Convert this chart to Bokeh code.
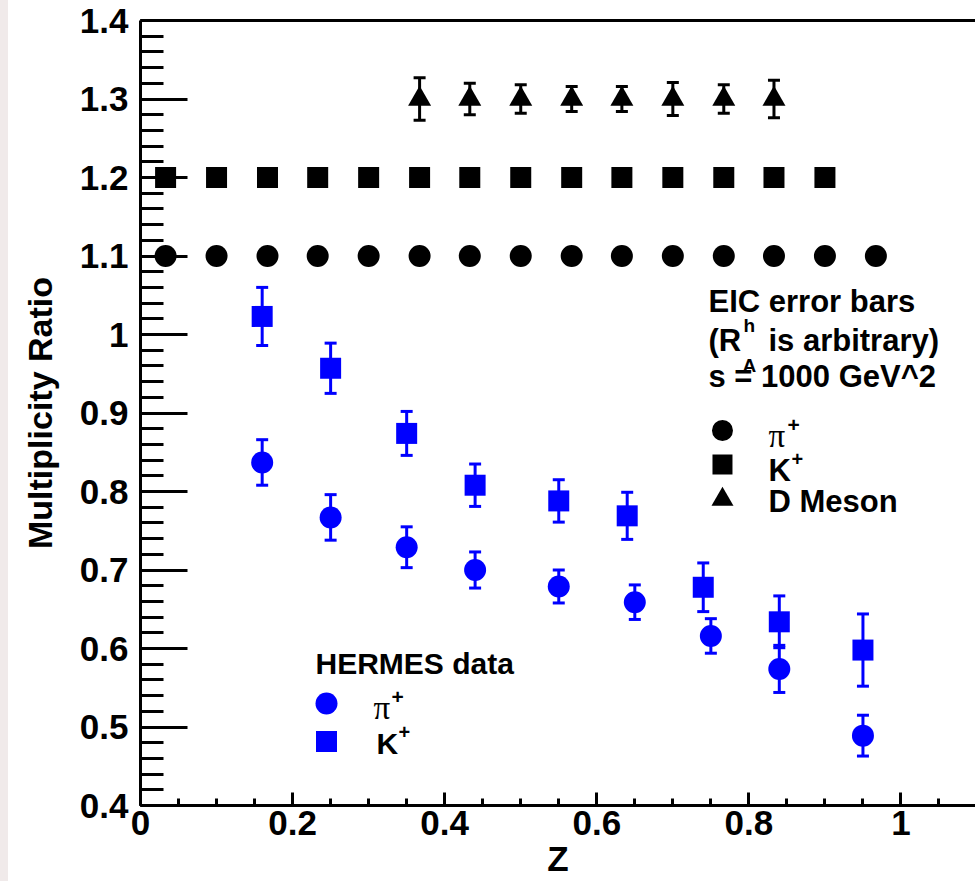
from bokeh.plotting import figure
from bokeh.models import (FixedTicker, LinearAxis, Whisker, TeeHead, ColumnDataSource,
                          Label, Range1d, Div)
from bokeh.layouts import row
from bokeh.embed import file_html
from bokeh.resources import INLINE

# ---------------- data ----------------
# HERMES data (blue)
hermes_pi_z = [0.16, 0.25, 0.35, 0.44, 0.55, 0.65, 0.75, 0.84, 0.95]
hermes_pi_r = [0.837, 0.767, 0.729, 0.700, 0.679, 0.659, 0.616, 0.574, 0.489]
hermes_pi_e = [0.029, 0.029, 0.026, 0.023, 0.021, 0.022, 0.022, 0.030, 0.026]

hermes_k_z = [0.16, 0.25, 0.35, 0.44, 0.55, 0.64, 0.74, 0.84, 0.95]
hermes_k_r = [1.023, 0.957, 0.874, 0.808, 0.788, 0.769, 0.678, 0.634, 0.598]
hermes_k_e = [0.037, 0.032, 0.028, 0.027, 0.027, 0.030, 0.031, 0.033, 0.046]

# EIC projected error bars (black, R is arbitrary)
eic_pi_z = [0.033, 0.100, 0.167, 0.233, 0.300, 0.367, 0.433, 0.500, 0.567,
            0.633, 0.700, 0.767, 0.833, 0.900, 0.967]
eic_pi_r = [1.1] * 15
eic_k_z = [0.033, 0.100, 0.167, 0.233, 0.300, 0.367, 0.433, 0.500, 0.567,
           0.633, 0.700, 0.767, 0.833, 0.900]
eic_k_r = [1.2] * 14
eic_d_z = [0.367, 0.433, 0.500, 0.567, 0.633, 0.700, 0.767, 0.833]
eic_d_r = [1.3] * 8
eic_d_e = [0.027, 0.020, 0.018, 0.016, 0.016, 0.021, 0.018, 0.024]

# axis ticks
x_ticks = [0.0, 0.2, 0.4, 0.6, 0.8, 1.0]
x_tick_labels = ["0", "0.2", "0.4", "0.6", "0.8", "1"]
y_ticks = [0.4, 0.5, 0.6, 0.7, 0.8, 0.9, 1.0, 1.1, 1.2, 1.3, 1.4]
y_tick_labels = ["0.4", "0.5", "0.6", "0.7", "0.8", "0.9", "1", "1.1", "1.2", "1.3", "1.4"]
x_minor = [round(0.05 * i, 3) for i in range(0, 23)]
y_minor = [round(0.4 + 0.02 * i, 3) for i in range(0, 51)]

# ---------------- layout ----------------
FONT = "Liberation Sans"
SERIF = "Liberation Serif"
BLUE = "#0000ff"
X_END = 1.098

p = figure(width=967, height=881, output_backend="svg", toolbar_location=None,
           x_range=Range1d(0, X_END), y_range=Range1d(0.4, 1.4),
           min_border_left=132, min_border_right=0, min_border_top=20,
           min_border_bottom=76)
p.outline_line_color = None
p.grid.visible = False
p.background_fill_color = "white"
p.border_fill_color = "white"

# x axis
xa = p.xaxis[0]
xa.ticker = FixedTicker(ticks=x_ticks, minor_ticks=x_minor)
xa.major_label_overrides = {t: l for t, l in zip(x_ticks, x_tick_labels)}
xa.major_tick_in = 13
xa.major_tick_out = 0
xa.minor_tick_in = 7
xa.minor_tick_out = 0
xa.axis_line_width = 3
xa.major_tick_line_width = 3
xa.minor_tick_line_width = 3
xa.major_label_text_font = FONT
xa.major_label_text_font_style = "bold"
xa.major_label_text_font_size = "35px"
xa.major_label_text_color = "black"
xa.major_label_standoff = 5
xa.axis_label = "Z"
xa.axis_label_text_font = FONT
xa.axis_label_text_font_style = "bold"
xa.axis_label_text_font_size = "35px"
xa.axis_label_text_color = "black"
xa.axis_label_standoff = 1

# y axis
ya = p.yaxis[0]
ya.ticker = FixedTicker(ticks=y_ticks, minor_ticks=y_minor)
ya.major_label_overrides = {t: l for t, l in zip(y_ticks, y_tick_labels)}
ya.major_tick_in = 47
ya.major_tick_out = 0
ya.minor_tick_in = 23
ya.minor_tick_out = 0
ya.axis_line_width = 3
ya.major_tick_line_width = 3
ya.minor_tick_line_width = 3
ya.major_label_text_font = FONT
ya.major_label_text_font_style = "bold"
ya.major_label_text_font_size = "35px"
ya.major_label_text_color = "black"
ya.major_label_standoff = 12
ya.axis_label = "Multiplicity Ratio"
ya.axis_label_text_font = FONT
ya.axis_label_text_font_style = "bold"
ya.axis_label_text_font_size = "34px"
ya.axis_label_text_color = "black"
ya.axis_label_standoff = 18

# top frame line
top = LinearAxis(ticker=FixedTicker(ticks=[]), axis_line_width=3,
                 major_label_text_font_size="0px", major_tick_in=0, major_tick_out=0,
                 minor_tick_in=0, minor_tick_out=0)
p.add_layout(top, "above")

# ---------------- error bars ----------------
def add_err(z, r, e, color):
    src = ColumnDataSource(dict(x=z, lo=[a - b for a, b in zip(r, e)],
                                hi=[a + b for a, b in zip(r, e)]))
    w = Whisker(base="x", lower="lo", upper="hi", source=src, dimension="height",
                line_color=color, line_width=3,
                lower_head=TeeHead(size=12, line_color=color, line_width=3),
                upper_head=TeeHead(size=12, line_color=color, line_width=3))
    p.add_layout(w)

add_err(hermes_pi_z, hermes_pi_r, hermes_pi_e, BLUE)
add_err(hermes_k_z, hermes_k_r, hermes_k_e, BLUE)
add_err(eic_d_z, eic_d_r, eic_d_e, "black")

# ---------------- markers ----------------
p.scatter(hermes_pi_z, hermes_pi_r, marker="circle", size=22, fill_color=BLUE, line_color=None)
p.scatter(hermes_k_z, hermes_k_r, marker="square", size=21, fill_color=BLUE, line_color=None)
p.scatter(eic_pi_z, eic_pi_r, marker="circle", size=22, fill_color="black", line_color=None)
p.scatter(eic_k_z, eic_k_r, marker="square", size=21, fill_color="black", line_color=None)
p.scatter(eic_d_z, eic_d_r, marker="triangle", size=23, fill_color="black", line_color=None)

# ---------------- legends (positions in page pixels -> data) ----------------
def dx(px):
    return (px - 140) / 760.5

def dy(py):
    return 1.4 - (py - 20) / 785.0

def lab(px, py, text, size, font=FONT, style="bold", color="black"):
    p.add_layout(Label(x=dx(px), y=dy(py), text=text, text_font=font,
                       text_font_style=style, text_font_size=f"{size}px",
                       text_color=color, text_align="left",
                       text_baseline="alphabetic"))

# EIC legend
lab(708, 301, "EIC error bars", 31)
lab(708, 340, "(R", 31)
lab(743, 325, "h", 19)
lab(742, 365, "A", 19)
lab(768, 340, "is arbitrary)", 31)
lab(708, 376, "s = 1000 GeV^2", 31)
p.scatter([dx(722)], [dy(430)], marker="circle", size=21, fill_color="black", line_color=None)
p.scatter([dx(722)], [dy(464)], marker="square", size=20, fill_color="black", line_color=None)
p.scatter([dx(722)], [dy(499)], marker="triangle", size=22, fill_color="black", line_color=None)
lab(768, 435, "π", 33, font=SERIF, style="normal")
lab(787, 424, "+", 21)
lab(768, 470, "K", 31)
lab(791, 458, "+", 20)
lab(768, 501, "D Meson", 31)

# HERMES legend
lab(315, 663, "HERMES data", 30)
p.scatter([dx(326)], [dy(703)], marker="circle", size=22, fill_color=BLUE, line_color=None)
p.scatter([dx(326)], [dy(741)], marker="square", size=21, fill_color=BLUE, line_color=None)
lab(373, 707, "π", 33, font=SERIF, style="normal")
lab(391, 696, "+", 21)
lab(376, 743, "K", 30)
lab(398, 731, "+", 20)

strip = Div(text="", width=8, height=881, margin=0,
            styles={"background-color": "#f0eaea"})
layout = row(strip, p, spacing=0)

open("out.html", "w").write(file_html(layout, INLINE))
